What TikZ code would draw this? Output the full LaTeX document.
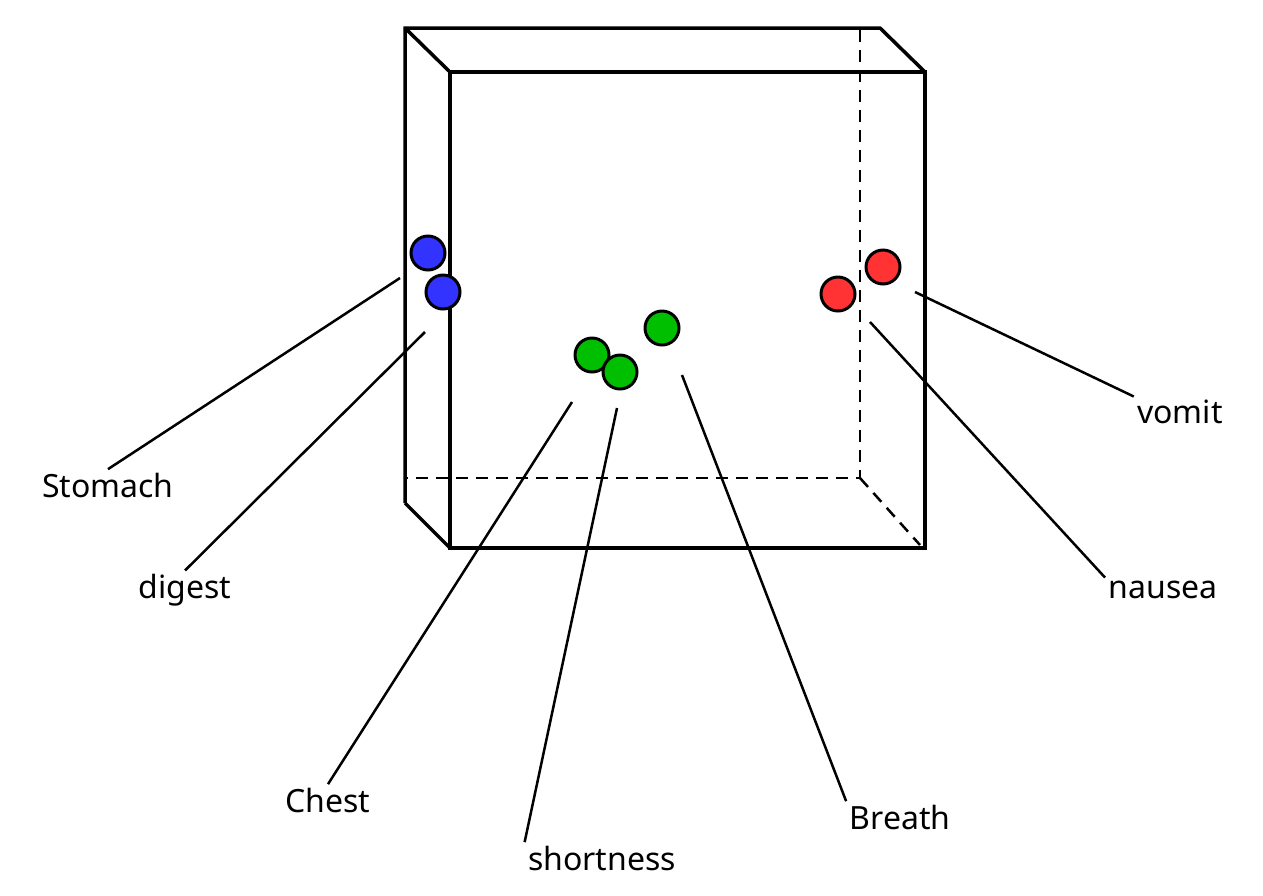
\documentclass[tikz,border=0pt]{standalone}
\usepackage{fontspec}
\setmainfont{Noto Sans}
\begin{document}
\begin{tikzpicture}
        [
            x=1pt, y=-1pt,
            box/.style = {line width=3.5pt},
            hidden/.style = {line width=2.5pt, dashed, dash pattern=on 12pt off 8pt},
            dot/.style = {draw, circle, line width=3pt, minimum size=34pt, inner sep=0pt},
            lead/.style = {line width=2.5pt},
            word/.style = {font=\fontsize{32}{36}\selectfont},
        ]
        \useasboundingbox (0,0) rectangle (1263,895);
        % box
        \draw[hidden] (860,30) -- (860,478) -- (405,478);
        \draw[hidden] (860,478) -- (920,545);
        \draw[box] (405,503) -- (405,28) -- (880,28) -- (925,72);
        \draw[box] (405,28) -- (450,72);
        \draw[box] (405,503) -- (450,548);
        \draw[box] (450,72) rectangle (925,548);
        % points
        \node [dot, fill=blue!80] (s) at (428,253) {};
        \node [dot, fill=blue!80] (d) at (443,292) {};
        \node [dot, fill=green!75!black] (c) at (592,355) {};
        \node [dot, fill=green!75!black] (sh) at (620,372) {};
        \node [dot, fill=green!75!black] (b) at (662,328) {};
        \node [dot, fill=red!80] (v) at (883,267) {};
        \node [dot, fill=red!80] (n) at (838,294) {};
        % labels
        \node [word] (stomach) at (108,485) {Stomach};
        \node [word] (digest) at (185,590) {digest};
        \node [word] (chest) at (328,800) {Chest};
        \node [word] (shortness) at (602,858) {shortness};
        \node [word] (breath) at (900,817) {Breath};
        \node [word] (nausea) at (1163,590) {nausea};
        \node [word] (vomit) at (1180,412) {vomit};
        \coordinate (s0) at (400,278);
        \coordinate (d0) at (425,332);
        \coordinate (c0) at (572,402);
        \coordinate (sh0) at (617,408);
        \coordinate (b0) at (682,375);
        \coordinate (n0) at (870,322);
        \coordinate (v0) at (915,292);
        \draw[lead] (s0) -- (stomach.north);
        \draw[lead] (d0) -- (digest.north);
        \draw[lead] (c0) -- (chest.north);
        \draw[lead] (sh0) -- (shortness.north west);
        \draw[lead] (b0) -- (breath.north west);
        \draw[lead] (n0) -- (nausea.north west);
        \draw[lead] (v0) -- (vomit.north west);
    \end{tikzpicture}
\end{document}
